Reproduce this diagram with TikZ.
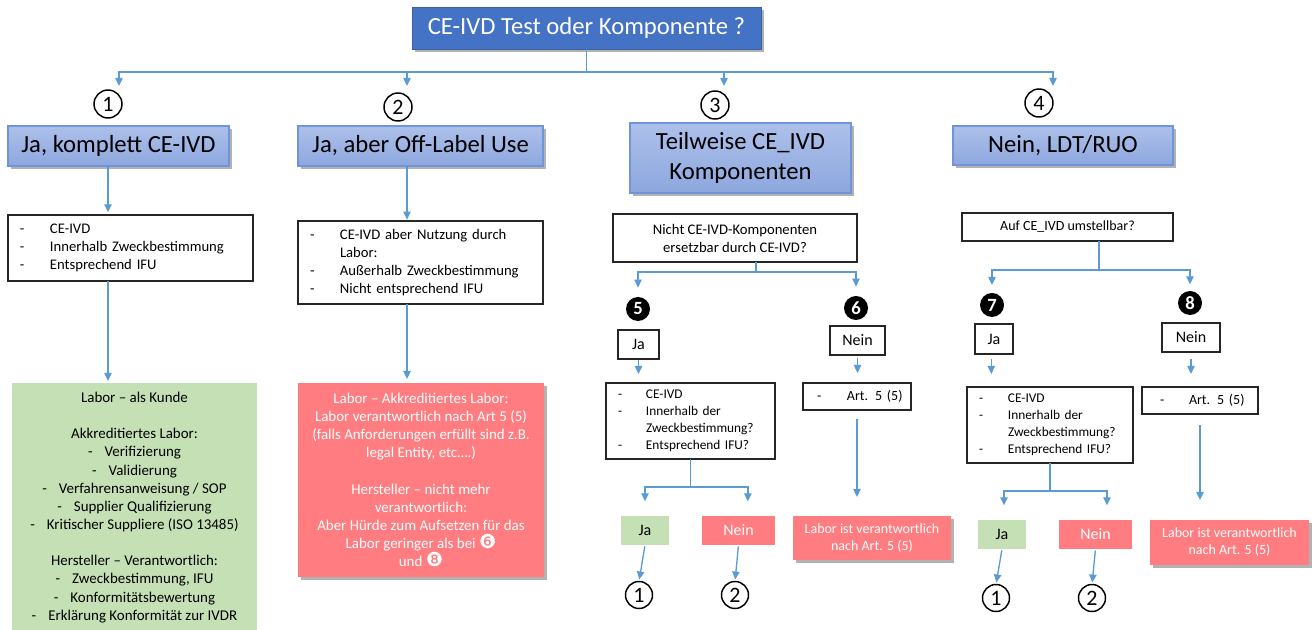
\documentclass[tikz,border=0pt]{standalone}
\usepackage{fontspec}
\setmainfont{Carlito}
\newfontfamily\dejavu{DejaVu Sans}
\usetikzlibrary{arrows.meta,shadows,calc}
\definecolor{titleblue}{HTML}{4472C4}
\definecolor{connc}{HTML}{5B9BD5}
\definecolor{lvltop}{HTML}{ADC0EA}
\definecolor{lvlbot}{HTML}{8DA7DE}
\definecolor{lvldraw}{HTML}{7094D8}
\definecolor{grn}{HTML}{C5E0B4}
\definecolor{rd}{HTML}{FF7C80}
\newcommand\dl[2][22.5pt]{\makebox[#1][l]{-}#2}
\newcommand\inv[1]{{\dejavu\fontsize{14.5}{12}\selectfont\textcolor{white}{#1}}}
\begin{document}
\begin{tikzpicture}[x=0.75pt,y=-0.75pt,
  every node/.style={inner sep=0pt,outer sep=0pt},
  shadowed/.style={drop shadow={shadow xshift=2pt,shadow yshift=-2pt,opacity=0.3,fill=black}},
  titlebox/.style={shadowed,rectangle,fill=titleblue,draw=titleblue!85!black,line width=0.6pt,
    text=white,font=\fontsize{18.5}{22}\selectfont},
  lvl/.style={shadowed,rectangle,top color=lvltop,bottom color=lvlbot,draw=lvldraw,line width=0.8pt,
    font=\fontsize{18.5}{22.5}\selectfont,align=center},
  num/.style={circle,draw=black,line width=1.1pt,minimum size=21pt,font=\fontsize{16.5}{16.5}\selectfont},
  bnum/.style={circle,fill=black,minimum size=18pt,text=white,font=\bfseries\fontsize{14}{14}\selectfont},
  bbox/.style={rectangle,draw=black!85,line width=0.9pt,fill=white,font=\fontsize{11}{13.5}\selectfont},
  bullets/.style={bbox,align=left},
  small/.style={font=\fontsize{10}{12.75}\selectfont},
  yn/.style={bbox,font=\fontsize{12}{14}\selectfont},
  grbox/.style={rectangle,fill=grn,font=\fontsize{11.2}{13.6}\selectfont,align=center},
  rdbox/.style={rectangle,fill=rd,text=white,font=\fontsize{11.2}{13.6}\selectfont,align=center},
  line/.style={draw=connc,line width=1pt},
  arr/.style={line,-{Triangle[length=6pt,width=5.5pt]}}
]
\useasboundingbox (0,0) rectangle (1315,630);

% title and level 1
\node[titlebox,minimum width=261.75pt,minimum height=31.5pt] (title) at (586.5,28) {CE-IVD Test oder Komponente ?};
\coordinate (j0) at (586.5,72);
\coordinate (a1) at (119,86);
\coordinate (a2) at (407,86);
\coordinate (a3) at (724,86);
\coordinate (a4) at (1053,86);
\node[num] (c1) at (108,104) {1};
\node[num] (c2) at (398,107) {2};
\node[num] (c3) at (715,105) {3};
\node[num] (c4) at (1039,103) {4};
\node[lvl,minimum width=165.75pt,minimum height=30pt] (box1) at (118.5,146) {Ja, komplett CE-IVD};
\node[lvl,minimum width=183.75pt,minimum height=30pt] (box2) at (420.5,146) {Ja, aber Off-Label Use};
\node[lvl,minimum width=165.75pt,minimum height=52.5pt] (box3) at (740.5,158) {Teilweise CE\_IVD\\Komponenten};
\node[lvl,minimum width=165pt,minimum height=29.25pt] (box4) at (1063,145.5) {Nein, LDT/RUO};

\draw[line] (title.south) -- (j0);
\draw[arr] (j0) -| (a1);
\draw[arr] (j0) -| (a2);
\draw[arr] (j0) -| (a3);
\draw[arr] (j0) -| (a4);

% column 1
\node[bullets,minimum width=183.75pt,minimum height=49.5pt,inner xsep=9pt,text width=165.75pt] (bul1) at (130.5,248)
  {\dl{CE-IVD}\\\dl{Innerhalb Zweckbestimmung}\\\dl{Entsprechend IFU}};
\node[grbox,minimum width=183.75pt,minimum height=186.75pt] (green1) at (134.5,507.5)
  {Labor -- als Kunde\\[13.6pt]
   Akkreditiertes Labor:\\
   -\hspace{9pt}Verifizierung\\
   -\hspace{9pt}Validierung\\
   -\hspace{9pt}Verfahrensanweisung / SOP\\
   -\hspace{9pt}Supplier Qualifizierung\\
   -\hspace{9pt}Kritischer Suppliere (ISO 13485)\\[13.6pt]
   Hersteller -- Verantwortlich:\\
   -\hspace{9pt}Zweckbestimmung, IFU\\
   -\hspace{9pt}Konformitätsbewertung\\
   -\hspace{9pt}Erklärung Konformität zur IVDR};
\draw[arr,shorten >=2pt] (c1 |- box1.south) -- (c1 |- bul1.north);
\draw[arr,shorten >=1.5pt] (c1 |- bul1.south) -- (c1 |- green1.north);

% column 2
\node[bullets,minimum width=183.75pt,minimum height=62.25pt,inner xsep=9pt,text width=165.75pt] (bul2) at (420.5,262.5)
  {\dl{CE-IVD aber Nutzung durch}\\\hspace*{22.5pt}Labor:\\\dl{Außerhalb Zweckbestimmung}\\\dl{Nicht entsprechend IFU}};
\node[rdbox,shadowed,minimum width=184.5pt,minimum height=145.5pt] (red2) at (421,480)
  {Labor -- Akkreditiertes Labor:\\
   Labor verantwortlich nach Art 5 (5)\\
   (falls Anforderungen erfüllt sind z.B.\\
   legal Entity, etc\ldots.)\\[13.6pt]
   Hersteller -- nicht mehr\\
   verantwortlich:\\
   Aber Hürde zum Aufsetzen für das\\
   Labor geringer als bei \inv{❻}\\
   und \inv{❽}};
\draw[arr,shorten >=1pt] (a2 |- box2.south) -- (a2 |- bul2.north);
\draw[arr,shorten >=3pt] (a2 |- bul2.south) -- (a2 |- red2.north);

% column 3
\node[bbox,align=center,font=\fontsize{11}{13.5}\selectfont,minimum width=183pt,minimum height=36pt] (q3) at (735,238)
  {Nicht CE-IVD-Komponenten\\ersetzbar durch CE-IVD?};
\coordinate (j3) at (756,272);
\node[bnum] (n5) at (638,309) {5};
\node[bnum] (n6) at (856,308) {6};
\draw[line] (j3 |- q3.south) -- (j3);
\draw[arr,shorten >=7pt] (j3) -| (n5);
\draw[arr,shorten >=7pt] (j3) -| (n6);
\node[yn,minimum width=30.75pt,minimum height=21.75pt] (ja5) at (638.5,344.5) {Ja};
\node[yn,minimum width=41.25pt,minimum height=21.75pt] (nein6) at (857.5,340.5) {Nein};
\node[bullets,small,minimum width=126.75pt,minimum height=57pt,inner xsep=9pt,text width=108.75pt] (bul5) at (690.5,421)
  {\dl[21pt]{CE-IVD}\\\dl[21pt]{Innerhalb der}\\\hspace*{21pt}Zweckbestimmung?\\\dl[21pt]{Entsprechend IFU?}};
\node[bullets,font=\fontsize{10.5}{12.75}\selectfont,minimum width=81pt,minimum height=20.25pt,inner xsep=10.5pt,text width=60pt] (art6) at (857,396.5)
  {\makebox[60pt][l]{\dl{Art. 5 (5)}}};
\draw[arr,shorten <=0.5pt,shorten >=6.75pt] (ja5.south) -- (ja5.south |- bul5.north);
\draw[arr,shorten <=2.25pt,shorten >=7.5pt] (nein6.south) -- (nein6.south |- art6.north);
\coordinate (j5) at (690.5,487);
\node[grbox,font=\fontsize{12}{14}\selectfont,minimum width=36pt,minimum height=21.75pt] (ja5b) at (645,530.5) {Ja};
\node[rdbox,font=\fontsize{12}{14}\selectfont,minimum width=54.75pt,minimum height=21.75pt] (nein5b) at (738.5,530.5) {Nein};
\draw[line] (bul5.south) -- (j5);
\draw[arr,shorten >=11pt] (j5) -| (ja5b.north);
\draw[arr,shorten >=11pt] (j5) -| ([xshift=7pt]nein5b.north);
\node[num,minimum size=20.25pt] (o1a) at (639,595) {1};
\node[num,minimum size=20.25pt] (o2a) at (735,595) {2};
\draw[arr,shorten <=1pt,shorten >=1.5pt] (ja5b.south) -- (o1a.north);
\draw[arr,shorten <=1pt,shorten >=1.5pt] (nein5b.south) -- (o2a.north);
\node[rdbox,shadowed,font=\fontsize{10.5}{12.75}\selectfont,minimum width=118.5pt,minimum height=33pt] (red6) at (872,538)
  {Labor ist verantwortlich\\nach Art. 5 (5)};
\draw[arr,shorten <=6.75pt,shorten >=14.25pt] (art6.south) -- (art6.south |- red6.north);

% column 4
\node[bbox,align=center,font=\fontsize{10.5}{13}\selectfont,minimum width=158.25pt,minimum height=21pt] (q4) at (1067.5,227)
  {Auf CE\_IVD umstellbar?};
\coordinate (j4) at (1099,270);
\node[bnum] (n7) at (992,305) {7};
\node[bnum] (n8) at (1190,303) {8};
\draw[line] (j4 |- q4.south) -- (j4);
\draw[arr,shorten >=6pt] (j4) -| (n7);
\draw[arr,shorten >=5pt] (j4) -| (n8);
\node[yn,minimum width=28.5pt,minimum height=22.5pt] (ja7) at (994,339) {Ja};
\node[yn,minimum width=43.5pt,minimum height=21.75pt] (nein8) at (1191,337.5) {Nein};
\node[bullets,small,minimum width=124.5pt,minimum height=57pt,inner xsep=9pt,text width=106.5pt] (bul7) at (1050,425)
  {\dl[21.75pt]{CE-IVD}\\\dl[21.75pt]{Innerhalb der}\\\hspace*{21.75pt}Zweckbestimmung?\\\dl[21.75pt]{Entsprechend IFU?}};
\node[bullets,font=\fontsize{10.5}{12.75}\selectfont,minimum width=87pt,minimum height=20.25pt,inner xsep=13.5pt,text width=60pt] (art8) at (1200,400.5)
  {\makebox[60pt][l]{\dl[21.75pt]{Art. 5 (5)}}};
\draw[arr,shorten <=3.75pt,shorten >=9.75pt] ([xshift=-2pt]ja7.south) -- ([xshift=-2pt]ja7.south |- bul7.north);
\draw[arr,shorten <=5.25pt,shorten >=9.75pt] (nein8.south) -- (nein8.south |- art8.north);
\coordinate (j7) at (1050,491);
\node[grbox,font=\fontsize{12}{14}\selectfont,minimum width=36pt,minimum height=21.75pt] (ja7b) at (1002,534.5) {Ja};
\node[rdbox,font=\fontsize{12}{14}\selectfont,minimum width=54.75pt,minimum height=21.75pt] (nein7b) at (1095.5,534.5) {Nein};
\draw[line] (bul7.south) -- (j7);
\draw[arr,shorten >=11pt] (j7) -| ([xshift=1.5pt]ja7b.north);
\draw[arr,shorten >=11pt] (j7) -| ([xshift=8.6pt]nein7b.north);
\node[num,minimum size=20.25pt] (o1b) at (996,598) {1};
\node[num,minimum size=20.25pt] (o2b) at (1092,598) {2};
\draw[arr,shorten <=1pt,shorten >=1.5pt] (ja7b.south) -- (o1b.north);
\draw[arr,shorten <=1pt,shorten >=1.5pt] (nein7b.south) -- (o2b.north);
\node[rdbox,shadowed,font=\fontsize{10.5}{12.75}\selectfont,minimum width=119.25pt,minimum height=33.75pt] (red8) at (1229.5,542.5)
  {Labor ist verantwortlich\\nach Art. 5 (5)};
\draw[arr,shorten <=8.25pt,shorten >=15pt] (art8.south) -- (art8.south |- red8.north);
\end{tikzpicture}
\end{document}
